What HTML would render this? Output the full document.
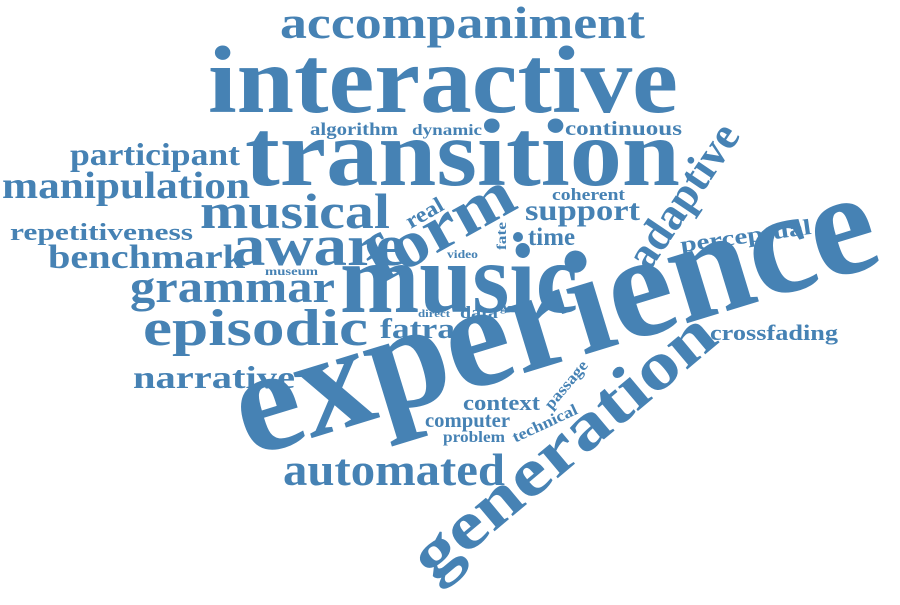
<!DOCTYPE html>
<html><head><meta charset="utf-8"><style>
html,body{margin:0;padding:0;background:#fff;}
svg{display:block}
text{font-family:"Liberation Serif",serif;font-weight:bold;fill:#4682b4;}
</style></head><body>
<svg width="900" height="605" viewBox="0 0 900 605">
<text x="280" y="38" font-size="46" textLength="365" lengthAdjust="spacingAndGlyphs">accompaniment</text>
<text x="208" y="112" font-size="95" textLength="470" lengthAdjust="spacingAndGlyphs">interactive</text>
<text x="245" y="185" font-size="95" textLength="435" lengthAdjust="spacingAndGlyphs">transition</text>
<text x="310" y="135" font-size="18" textLength="88" lengthAdjust="spacingAndGlyphs">algorithm</text>
<text x="412" y="135" font-size="16" textLength="70" lengthAdjust="spacingAndGlyphs">dynamic</text>
<text x="565" y="135" font-size="20" textLength="117" lengthAdjust="spacingAndGlyphs">continuous</text>
<text x="70" y="165" font-size="32" textLength="170" lengthAdjust="spacingAndGlyphs">participant</text>
<text x="2" y="198" font-size="38" textLength="248" lengthAdjust="spacingAndGlyphs">manipulation</text>
<text x="200" y="228" font-size="50" textLength="190" lengthAdjust="spacingAndGlyphs">musical</text>
<text x="10" y="240" font-size="24" textLength="183" lengthAdjust="spacingAndGlyphs">repetitiveness</text>
<text x="48" y="268" font-size="34" textLength="197" lengthAdjust="spacingAndGlyphs">benchmark</text>
<text x="232" y="265" font-size="58" textLength="173" lengthAdjust="spacingAndGlyphs">aware</text>
<text x="450" y="246" font-size="66" text-anchor="middle" textLength="160" lengthAdjust="spacingAndGlyphs" transform="rotate(-29 450 246)">form</text>
<text x="428" y="219" font-size="22" text-anchor="middle" textLength="40" lengthAdjust="spacingAndGlyphs" transform="rotate(-30 428 219)">real</text>
<text x="552" y="200" font-size="17" textLength="73" lengthAdjust="spacingAndGlyphs">coherent</text>
<text x="525" y="220" font-size="30" textLength="115" lengthAdjust="spacingAndGlyphs">support</text>
<text x="695" y="204" font-size="45" text-anchor="middle" textLength="165" lengthAdjust="spacingAndGlyphs" transform="rotate(-56 695 204)">adaptive</text>
<text x="680" y="243" font-size="22" textLength="132" lengthAdjust="spacingAndGlyphs" transform="rotate(-8 746 238)">perceptual</text>
<text x="528" y="245" font-size="25" textLength="47" lengthAdjust="spacingAndGlyphs">time</text>
<circle cx="518" cy="237" r="5" fill="#4682b4"/>
<text x="506" y="236" font-size="14" text-anchor="middle" textLength="28" lengthAdjust="spacingAndGlyphs" transform="rotate(-90 506 236)">fate</text>
<text x="447" y="258" font-size="12" textLength="31" lengthAdjust="spacingAndGlyphs">video</text>
<text x="265" y="275" font-size="12" textLength="53" lengthAdjust="spacingAndGlyphs">museum</text>
<text x="340" y="312" font-size="100" textLength="238" lengthAdjust="spacingAndGlyphs">music</text>
<text x="130" y="302" font-size="45" textLength="205" lengthAdjust="spacingAndGlyphs">grammar</text>
<text x="143" y="345" font-size="52" textLength="225" lengthAdjust="spacingAndGlyphs">episodic</text>
<text x="418" y="317" font-size="11" textLength="32" lengthAdjust="spacingAndGlyphs">direct</text>
<text x="460" y="318" font-size="17" textLength="38" lengthAdjust="spacingAndGlyphs">data</text>
<text x="500" y="311" font-size="11" textLength="30" lengthAdjust="spacingAndGlyphs">game</text>
<text x="380" y="338" font-size="28" textLength="75" lengthAdjust="spacingAndGlyphs">fatra</text>
<text x="710" y="340" font-size="22" textLength="128" lengthAdjust="spacingAndGlyphs">crossfading</text>
<text x="133" y="388" font-size="32" textLength="162" lengthAdjust="spacingAndGlyphs">narrative</text>
<text x="567" y="360" font-size="148" text-anchor="middle" textLength="665" lengthAdjust="spacingAndGlyphs" transform="rotate(-17 567 360)">experience</text>
<text x="577" y="462" font-size="68" text-anchor="middle" textLength="375" lengthAdjust="spacingAndGlyphs" transform="rotate(-40 577 462)">generation</text>
<text x="570" y="388" font-size="16" text-anchor="middle" textLength="58" lengthAdjust="spacingAndGlyphs" transform="rotate(-50 570 388)">passage</text>
<text x="463" y="410" font-size="22" textLength="77" lengthAdjust="spacingAndGlyphs">context</text>
<text x="547" y="428" font-size="16" text-anchor="middle" textLength="70" lengthAdjust="spacingAndGlyphs" transform="rotate(-25 547 428)">technical</text>
<text x="425" y="427" font-size="21" textLength="85" lengthAdjust="spacingAndGlyphs">computer</text>
<text x="443" y="442" font-size="16" textLength="62" lengthAdjust="spacingAndGlyphs">problem</text>
<text x="283" y="485" font-size="45" textLength="222" lengthAdjust="spacingAndGlyphs">automated</text>
</svg>
</body></html>
